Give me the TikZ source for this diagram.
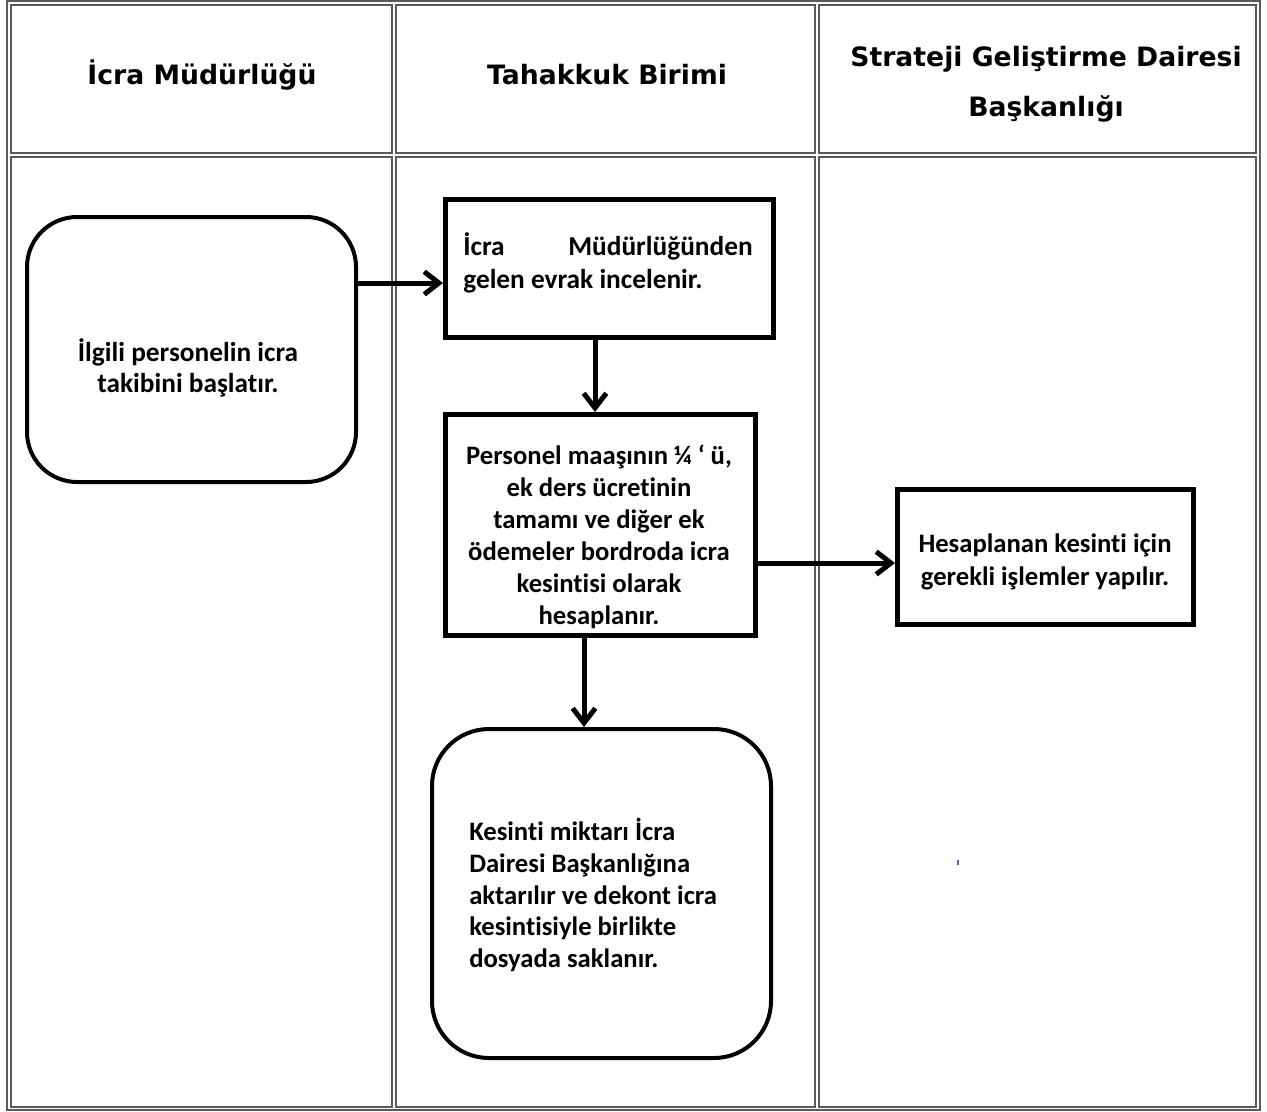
\documentclass[tikz,border=0pt]{standalone}
\usepackage{fontspec}
\setmainfont{Carlito}[Ligatures=NoCommon]
\newfontfamily\hdrfont{DejaVu Sans}
\usetikzlibrary{arrows.meta}
\begin{document}
\begin{tikzpicture}[x=0.75pt,y=-0.75pt,
  grid/.style={draw=black!65,line width=1.1pt},
  hdr/.style={font=\hdrfont\bfseries\fontsize{20pt}{37.5pt}\selectfont,align=center,inner sep=0pt},
  body/.style={font=\fontsize{20pt}{24pt}\selectfont\bfseries,inner sep=0pt},
  sqbox/.style={draw=black,line width=3.75pt,rectangle,inner sep=0pt},
  rbox/.style={draw=black,line width=3pt,rectangle,inner sep=0pt},
  arr/.style={draw=black,line width=3.75pt,-{Straight Barb[length=11pt,width=17pt]}}]
\useasboundingbox (0,0) rectangle (1267,1111);
% table
\draw[grid] (7,1) rectangle (1260,1110);
\draw[grid] (11,5) rectangle (392,153);
\draw[grid] (396,5) rectangle (815,153);
\draw[grid] (819,5) rectangle (1256,153);
\draw[grid] (11,157) rectangle (392,1107);
\draw[grid] (396,157) rectangle (815,1107);
\draw[grid] (819,157) rectangle (1256,1107);
% headers
\node[hdr] (h1) at (202,75) {İcra Müdürlüğü};
\node[hdr] (h2) at (607,75) {Tahakkuk Birimi};
\node[hdr] (h3) at (1046,84) {Strateji Geliştirme Dairesi\\Başkanlığı};
% shapes
\node[rbox,rounded corners=37.5pt,minimum width=246.75pt,minimum height=198.75pt] (lb) at (191.5,349.5) {};
\node[sqbox,minimum width=246pt,minimum height=103.5pt] (b1) at (609.5,268.5) {};
\node[sqbox,minimum width=232.5pt,minimum height=165.75pt] (b2) at (600.5,525) {};
\node[sqbox,minimum width=222pt,minimum height=101.25pt] (b3) at (1045.5,557) {};
\node[rbox,rounded corners=42.75pt,minimum width=254.25pt,minimum height=246.75pt] (b4) at (601.5,893.5) {};
% texts
\node[body,font=\fontsize{20.5pt}{23.5pt}\selectfont\bfseries,align=center] (t0) at (188,368) {İlgili personelin icra\\takibini başlatır.};
\node[body,font=\fontsize{20.5pt}{24.75pt}\selectfont\bfseries,align=left] (t1) at (608,263) {\makebox[217pt][l]{İcra\hfill Müdürlüğünden}\\gelen evrak incelenir.};
\node[body,align=center] (t2) at (599,537) {Personel maaşının ¼ ‘ ü,\\ek ders ücretinin\\tamamı ve diğer ek\\ödemeler bordroda icra\\kesintisi olarak\\hesaplanır.};
\node[body,font=\fontsize{20pt}{24.5pt}\selectfont\bfseries,align=center] (t3) at (1045,562) {Hesaplanan kesinti için\\gerekli işlemler yapılır.};
\node[body,font=\fontsize{20pt}{23.8pt}\selectfont\bfseries,align=left,anchor=west] (t4) at (469,895) {Kesinti miktarı İcra\\Dairesi Başkanlığına\\aktarılır ve dekont icra\\kesintisiyle birlikte\\dosyada saklanır.};
% connectors
\coordinate (r1) at (0,283);
\coordinate (c2) at (595,0);
\coordinate (r3) at (0,563);
\coordinate (c4) at (584,0);
\draw[arr] (lb.east |- r1) -- (b1.west |- r1);
\draw[arr] (b1.south -| c2) -- (b2.north -| c2);
\draw[arr] (b2.east |- r3) -- (b3.west |- r3);
\draw[arr] (b2.south -| c4) -- (b4.north -| c4);
% stray mark
\fill[blue!55!cyan!70!black!80] (957.3,860) rectangle (959.3,864.5);
\end{tikzpicture}
\end{document}
